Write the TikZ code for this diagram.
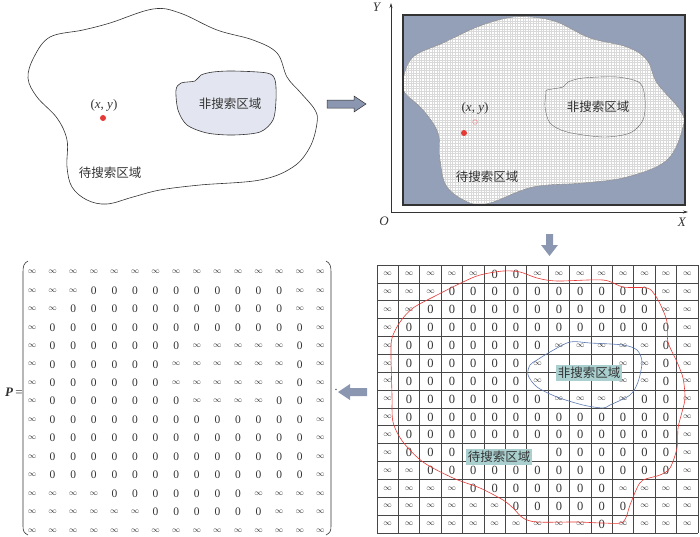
\documentclass[tikz,border=0pt]{standalone}
\usepackage{amsmath}
\usepackage{fontspec}
\setmainfont{Liberation Serif}
\newfontfamily\cjk{Noto Sans CJK SC}
\usepackage{tikz}
\usetikzlibrary{arrows.meta}

\definecolor{blockblue}{HTML}{8B97B0}
\definecolor{regionblue}{HTML}{949FB8}
\definecolor{innerfill}{HTML}{E3E6F0}
\definecolor{labelteal}{HTML}{A9CFCF}
\definecolor{dotred}{HTML}{E53935}
\definecolor{curveblue}{HTML}{5B77B0}
\definecolor{ink}{HTML}{333333}

\newcommand{\cellval}[2]{\if i#1{\fontsize{8}{8}\selectfont$\infty$}\else\if n#1\else{\fontsize{#2}{#2}\selectfont 0}\fi\fi}

\begin{document}
\begin{tikzpicture}[x=1pt, y=-1pt, font=\fontsize{12}{12}\selectfont, text=ink,
    outline/.style={draw=ink, line width=0.6pt},
    blockarrow/.style={fill=blockblue},
    cjklabel/.style={font=\cjk\fontsize{12.5}{12.5}\selectfont, inner sep=1pt},
    tealbox/.style={cjklabel, fill=labelteal, inner sep=2pt},
    pointlabel/.style={font=\fontsize{13}{13}\selectfont, inner sep=1pt},
    gridline/.style={draw=ink!90, line width=0.7pt},
    cell/.style={inner sep=0pt},
    entry/.style={inner sep=0pt},
    axis/.style={draw=ink, line width=0.6pt, -{Stealth[length=5pt, width=3pt]}},
    hatch/.style={draw=gray!30, line width=0.2pt}]
  \useasboundingbox (0,0) rectangle (700,536);

  % search area with obstacle
  \draw[outline] plot[smooth cycle, tension=0.6] coordinates {
    (28,78) (34,57) (50,37) (83,30) (110,23) (153,9) (180,13) (217,30)
    (253,40) (277,53) (287,77) (300,92) (315,110) (317,123) (310,147)
    (293,167) (260,180) (200,185) (160,190) (133,197) (107,204) (87,200)
    (72,187) (67,167) (67,140) (57,118) (37,97)};
  \draw[outline, fill=innerfill] plot[smooth cycle, tension=0.5] coordinates {
    (195,81) (201,75) (213,72) (233,71) (267,73) (275,80) (276,100)
    (273,120) (260,132) (233,135) (207,133) (187,125) (178,110)
    (176,90) (181,83)};
  \fill[dotred] (103,118) circle (3);
  \node[pointlabel] (xy1) at (104,105) {(\textit{x}, \textit{y})};
  \node[cjklabel] (free1) at (110,173) {待搜索区域};
  \node[cjklabel] (obst1) at (230,104) {非搜索区域};

  \draw[outline, blockarrow, line width=0.5pt]
    (327,100) -- (354,100) -- (354,96) -- (366,104) -- (354,112) -- (354,108) -- (327,108) -- cycle;

  % coordinate frame and hatched area
  \coordinate (O) at (391,212);
  \coordinate (ytop) at (391,3);
  \coordinate (xend) at (688,212);
  \fill[regionblue] (403,15) rectangle (685,205);
  \begin{scope}
    \clip plot[smooth cycle, tension=0.6] coordinates {
      (507,18) (477,27) (443,43) (413,57) (403,80) (405,93) (423,110)
      (438,133) (440,160) (447,187) (470,203) (490,203) (533,187) (583,183)
      (627,177) (667,160) (683,127) (680,110) (657,83) (647,60) (627,47)
      (590,38) (557,22) (530,17)};
    \fill[white] (403,15) rectangle (685,205);
    \draw[hatch, step=2.6pt] (403,15) grid (685,205);
  \end{scope}
  \draw[gray, line width=0.4pt] plot[smooth cycle, tension=0.6] coordinates {
    (507,18) (477,27) (443,43) (413,57) (403,80) (405,93) (423,110)
    (438,133) (440,160) (447,187) (470,203) (490,203) (533,187) (583,183)
    (627,177) (667,160) (683,127) (680,110) (657,83) (647,60) (627,47)
    (590,38) (557,22) (530,17)};
  \draw[gray!80!black, line width=0.4pt] plot[smooth cycle, tension=0.5] coordinates {
    (547,90) (563,87) (568,82) (583,78) (617,77) (640,83) (645,100)
    (643,120) (630,133) (603,137) (567,132) (550,123) (545,107) (546,93)};
  \draw[ink, line width=1.2pt] (403,15) rectangle (685,205);
  \draw[axis] (O) -- (ytop);
  \draw[axis] (O) -- (xend);
  \node[pointlabel] (lO) at (384,221) {\textit{O}};
  \node[pointlabel] (lX) at (682,222) {\textit{X}};
  \node[pointlabel] (lY) at (377,7) {\textit{Y}};
  \fill[dotred] (464,133) circle (3);
  \draw[dotred!60, line width=0.5pt] (475,122) circle (2.3);
  \node[pointlabel] (xy2) at (475,108) {(\textit{x}, \textit{y})};
  \node[cjklabel] (free2) at (487,177) {待搜索区域};
  \node[cjklabel] (obst2) at (598,107) {非搜索区域};

  \fill[blockblue]
    (546,234) -- (553,234) -- (553,245) -- (558,245) -- (549.5,256) -- (541,245) -- (546,245) -- cycle;

  % cost grid
  \foreach \i in {0,...,15} {
    \draw[gridline] ({377+21.4*\i},265) -- ({377+21.4*\i},533);
    \draw[gridline] (377,{265+17.87*\i}) -- (698,{265+17.87*\i});
  }
  \foreach \row [count=\r] in {
      {i,i,i,i,i,0,0,i,i,i,i,i,i,i,i},
      {i,i,i,0,0,0,0,0,0,0,0,0,0,i,i},
      {i,i,0,0,0,0,0,0,0,0,0,0,0,i,i},
      {i,0,0,0,0,0,0,0,0,0,0,0,0,0,i},
      {i,0,0,0,0,0,0,0,i,i,i,i,i,0,i},
      {i,0,0,0,0,0,0,i,n,n,n,i,i,0,i},
      {i,0,0,0,0,0,0,i,n,n,n,i,i,0,i},
      {i,0,0,0,0,0,0,0,i,i,i,i,0,0,i},
      {i,0,0,0,0,0,0,0,0,0,0,0,0,0,i},
      {i,0,0,0,0,0,0,0,0,0,0,0,0,0,i},
      {i,0,0,0,n,n,n,n,0,0,0,0,0,0,i},
      {i,i,0,0,0,0,0,0,0,0,0,0,0,0,i},
      {i,i,i,i,0,0,0,0,0,0,0,i,i,i,i},
      {i,i,i,i,i,i,0,0,0,0,0,0,i,i,i},
      {i,i,i,i,i,i,i,i,i,i,0,i,i,i,i}} {
    \foreach \v [count=\c] in \row
      \node[cell] (g-\r-\c) at ({377+21.4*(\c-0.5)},{265+17.87*(\r-0.5)}) {\cellval{\v}{12.5}};
  }
  \draw[dotred, line width=0.6pt] plot[smooth cycle, tension=0.5] coordinates {
    (480,275) (503,271) (520,272) (537,278) (557,281) (603,280) (623,287)
    (647,288) (655,295) (662,308) (667,322) (668,342) (677,362) (683,378)
    (685,398) (682,412) (678,428) (677,448) (670,468) (660,475) (643,480)
    (637,488) (630,505) (623,522) (603,523) (577,522) (537,522) (523,518)
    (513,508) (503,500) (480,488) (453,478) (423,462) (403,442) (393,422)
    (392,395) (391,355) (392,338) (400,322) (413,308) (437,295) (463,282)};
  \draw[curveblue, line width=0.6pt] plot[smooth cycle, tension=0.5] coordinates {
    (537,360) (550,352) (570,342) (590,343) (623,345) (637,350) (642,362)
    (638,382) (630,395) (610,405) (603,408) (583,405) (557,397) (537,387)
    (528,375) (530,365)};
  \node[tealbox] (obst3) at (589,373) {非搜索区域};
  \node[tealbox] (free3) at (499,457) {待搜索区域};

  \fill[blockblue]
    (338,392) -- (350,384) -- (350,388) -- (367,388) -- (367,396) -- (350,396) -- (350,400) -- cycle;

  % cost matrix P
  \node[pointlabel] (P) at (14,392) {\textbf{\textit{P}}\,=};
  \draw[ink, line width=0.6pt] (28,261) .. controls (24,263) and (23,266) .. (23,272)
    -- (23,526) .. controls (23,531) and (24,533) .. (28,535);
  \draw[ink, line width=0.6pt] (326,261) .. controls (330,263) and (331,266) .. (331,272)
    -- (331,526) .. controls (331,531) and (330,533) .. (326,535);
  \foreach \row [count=\r] in {
      {i,i,i,i,i,i,i,i,i,i,i,i,i,i,i},
      {i,i,i,0,0,0,0,0,0,0,0,0,0,i,i},
      {i,i,0,0,0,0,0,0,0,0,0,0,0,i,i},
      {i,0,0,0,0,0,0,0,0,0,0,0,0,0,i},
      {i,0,0,0,0,0,0,0,i,i,i,i,i,0,i},
      {i,0,0,0,0,0,0,i,i,i,i,i,i,0,i},
      {i,0,0,0,0,0,0,i,i,i,i,i,i,0,i},
      {i,0,0,0,0,0,0,0,i,i,i,i,0,0,i},
      {i,0,0,0,0,0,0,0,0,0,0,0,0,0,i},
      {i,0,0,0,0,0,0,0,0,0,0,0,0,0,i},
      {i,0,0,0,0,0,0,0,0,0,0,0,0,0,i},
      {i,0,0,0,0,0,0,0,0,0,0,0,0,0,i},
      {i,i,i,i,0,0,0,0,0,0,0,i,i,i,i},
      {i,i,i,i,i,i,0,0,0,0,0,0,i,i,i},
      {i,i,i,i,i,i,i,i,i,i,i,i,i,i,i}} {
    \foreach \v [count=\c] in \row
      \node[entry] (p-\r-\c) at ({32+20.6*(\c-1)},{272+18.45*(\r-1)}) {\cellval{\v}{11.5}};
  }
  \node[entry] (dot) at (336,390) {.};
\end{tikzpicture}
\end{document}
